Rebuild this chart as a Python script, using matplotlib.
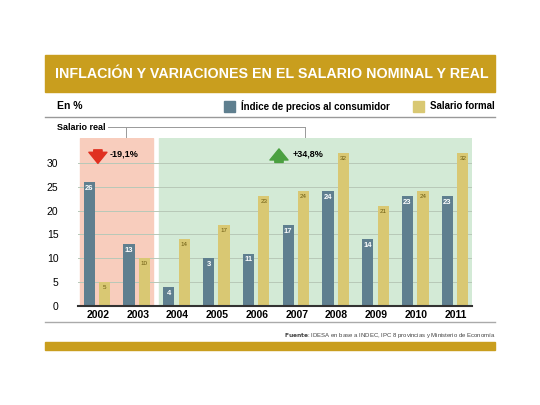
import matplotlib
matplotlib.use("Agg")
import matplotlib.pyplot as plt
from matplotlib.patches import Rectangle
import numpy as np

years = ["2002","2003","2004","2005","2006","2007","2008","2009","2010","2011"]
ipc = [26, 13, 4, 10, 11, 17, 24, 14, 23, 23]
ipc_labels = ["26","13","4","3","11","17","24","14","23","23"]
salario = [5, 10, 14, 17, 23, 24, 32, 21, 24, 32]
salario_labels = ["5","10","14","17","23","24","32","21","24","32"]

plt.rcParams['font.family'] = ['Liberation Sans', 'DejaVu Sans']
W, H = 540, 405
fig = plt.figure(figsize=(5.4, 4.05), dpi=100)
fig.patch.set_facecolor("white")
def fx(p): return p / W
def fy(p): return 1 - p / H

fig.patches.append(Rectangle((fx(45), fy(92)), fx(450), (92-55)/H, transform=fig.transFigure, color="#c99e1e"))
fig.text(fx(55), fy(74), "INFLACIÓN Y VARIACIONES EN EL SALARIO NOMINAL Y REAL", color="white",
         fontsize=10.3, fontweight="bold", va="center")
fig.text(fx(57), fy(106), "En %", fontsize=7.5, fontweight="bold", va="center")
fig.patches.append(Rectangle((fx(224), fy(112)), fx(11), 11/H, transform=fig.transFigure, color="#5f7f8f"))
fig.text(fx(241), fy(106), "Índice de precios al consumidor", fontsize=7, fontweight="bold", va="center")
fig.patches.append(Rectangle((fx(413), fy(112)), fx(11), 11/H, transform=fig.transFigure, color="#d9c873"))
fig.text(fx(430), fy(106), "Salario formal", fontsize=7, fontweight="bold", va="center")
fig.lines.append(plt.Line2D([fx(45), fx(495)], [fy(117), fy(117)], transform=fig.transFigure, color="#999999", lw=1))
fig.text(fx(57), fy(127), "Salario real", fontsize=6.5, fontweight="bold", va="center")
fig.lines.append(plt.Line2D([fx(108), fx(305)], [fy(127), fy(127)], transform=fig.transFigure, color="#999999", lw=0.7))
for xx in (126, 305):
    fig.lines.append(plt.Line2D([fx(xx), fx(xx)], [fy(127), fy(137)], transform=fig.transFigure, color="#999999", lw=0.7))

ax = fig.add_axes([fx(78), fy(306), fx(472-78), (306-138)/H])
x = np.arange(len(years))
ax.set_xlim(-0.5, 9.4)
ax.set_ylim(0, 35.2)
ax.axvspan(-0.45, 1.38, color="#f8cdbd", zorder=0)
ax.axvspan(1.53, 9.4, color="#d3ead6", zorder=0)
for yv in (5, 10, 15, 20, 25, 30):
    ax.axhline(yv, color="#b8c8b8", lw=0.7, zorder=1)
w = 0.28
ax.bar(x - 0.22, ipc, w, color="#5f7f8f", zorder=2)
ax.bar(x + 0.17, salario, w, color="#d9c873", zorder=2)
for xi, v, l in zip(x, ipc, ipc_labels):
    ax.text(xi - 0.22, v - 0.6, l, ha="center", va="top", color="white", fontsize=5.5, fontweight="bold", zorder=3)
for xi, v, l in zip(x, salario, salario_labels):
    ax.text(xi + 0.17, v - 0.6, l, ha="center", va="top", color="#6a5a10", fontsize=4.5, zorder=3)
ax.annotate("", xy=(0.0, 29.3), xytext=(0.0, 33.3),
            arrowprops=dict(arrowstyle="simple,head_width=1.3,head_length=0.8,tail_width=0.6", color="#e03020"))
ax.text(0.3, 31.8, "-19,1%", fontsize=6.5, fontweight="bold", va="center")
ax.annotate("", xy=(4.55, 33.5), xytext=(4.55, 29.5),
            arrowprops=dict(arrowstyle="simple,head_width=1.3,head_length=0.8,tail_width=0.6", color="#4aa040"))
ax.text(4.9, 31.8, "+34,8%", fontsize=6.5, fontweight="bold", va="center")
ax.set_xticks(x)
ax.set_xticklabels(years, fontsize=7.5, fontweight="bold")
ax.set_yticks([0, 5, 10, 15, 20, 25, 30])
ax.tick_params(axis="y", labelsize=7.5, length=0, pad=14)
ax.tick_params(axis="x", length=0, pad=3)
for s in ("top", "right", "left"):
    ax.spines[s].set_visible(False)
ax.spines["bottom"].set_color("#333333")
ax.spines["bottom"].set_linewidth(1.5)
ax.patch.set_alpha(0)

fig.lines.append(plt.Line2D([fx(45), fx(495)], [fy(322), fy(322)], transform=fig.transFigure, color="#aaaaaa", lw=1))
fig.text(fx(495), fy(336), r"$\bf{Fuente}$: IDESA en base a INDEC, IPC 8 provincias y Ministerio de Economía", ha="right",
         fontsize=4.3, va="center", color="#444444")
fig.patches.append(Rectangle((fx(45), fy(350)), fx(450), 8/H, transform=fig.transFigure, color="#c99e1e"))

fig.savefig("out.png", dpi=100)
